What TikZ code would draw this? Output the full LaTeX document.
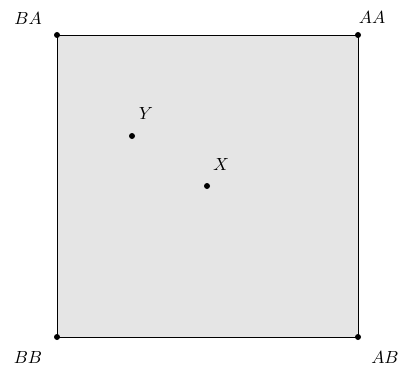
\documentclass[tikz,border=0pt]{standalone}
\usepackage{amsmath}
\usepackage{tikz}
\usetikzlibrary{positioning}
\definecolor{Panel}{gray}{0.9}

\begin{document}
\begin{tikzpicture}[
  dot/.style={circle,fill=black,inner sep=0pt,minimum size=1.2mm},
  lbl/.style={inner sep=0pt,font=\normalsize},
  panel/.style={draw=black,fill=Panel,thin}
]
\useasboundingbox (0,0) rectangle (7.98,7.5);
\coordinate (bb) at (1.14,0.76);
\coordinate (ab) at (7.16,0.76);
\coordinate (aa) at (7.16,6.80);
\coordinate (ba) at (1.14,6.80);
\draw[panel] (bb) -- (ab) -- (aa) -- (ba) -- cycle;
\node[dot] (nbb) at (bb) {};
\node[dot] (nab) at (ab) {};
\node[dot] (naa) at (aa) {};
\node[dot] (nba) at (ba) {};
\node[dot] (x) at (4.14,3.78) {};
\node[dot] (y) at (2.64,4.78) {};
\node[lbl] (lba) at (0.56,7.14) {$BA$};
\node[lbl] (laa) at (7.44,7.16) {$AA$};
\node[lbl] (lbb) at (0.56,0.36) {$BB$};
\node[lbl] (lab) at (7.70,0.36) {$AB$};
\node[lbl] (lx) at (4.42,4.22) {$X$};
\node[lbl] (ly) at (2.92,5.24) {$Y$};
\end{tikzpicture}
\end{document}
